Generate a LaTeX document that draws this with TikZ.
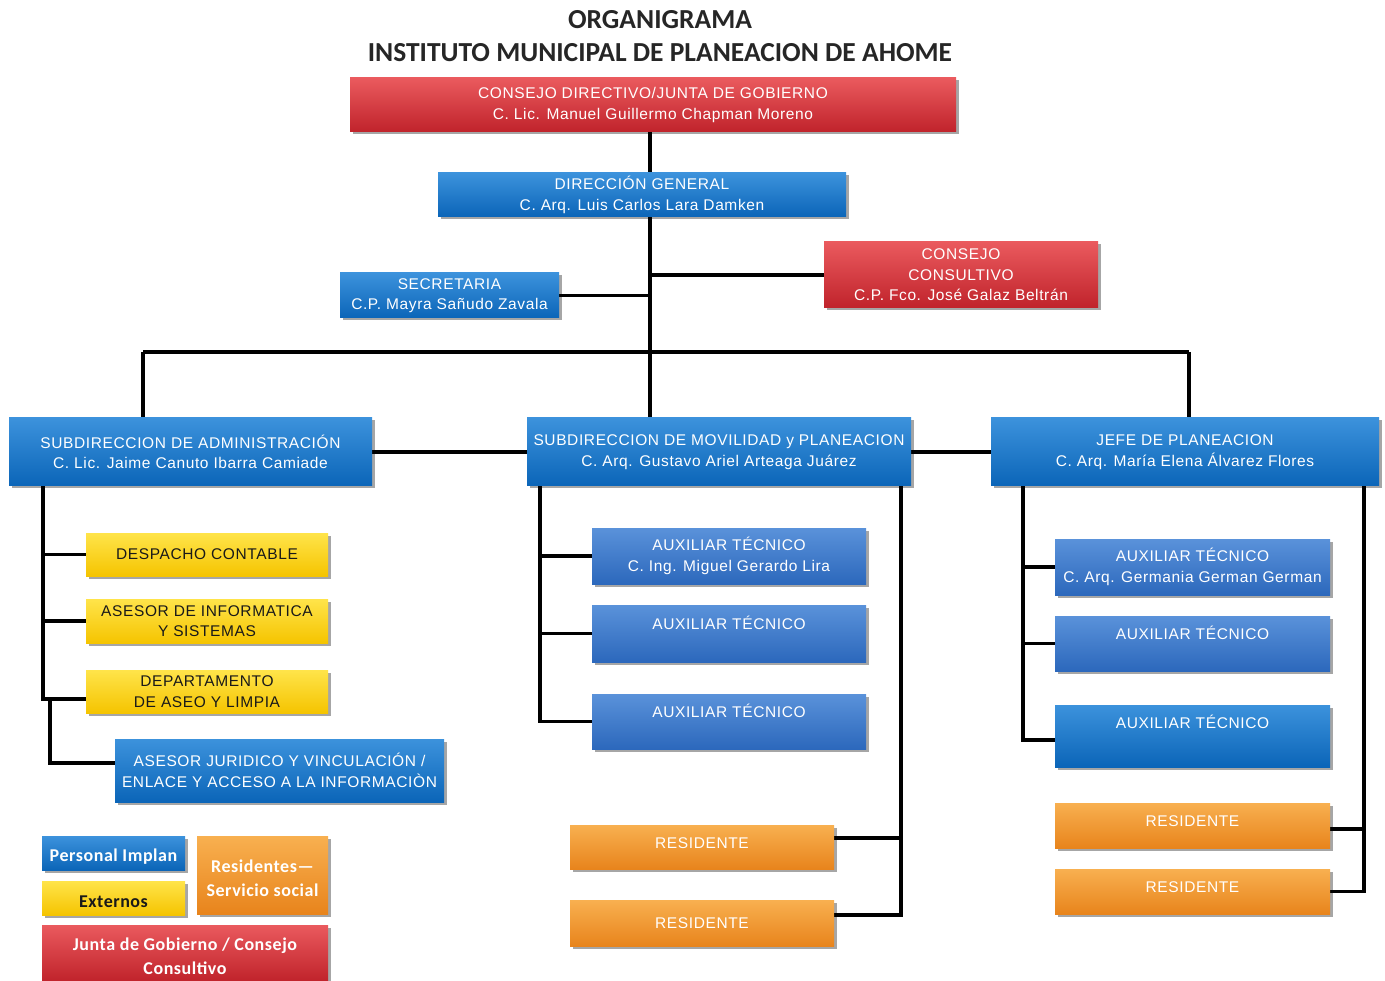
\documentclass[tikz,border=0pt]{standalone}
\usepackage{fontspec}
\usetikzlibrary{shadows,backgrounds}
\newfontfamily\bxfont[LetterSpace=4]{Liberation Sans}
\newfontfamily\lgfont[LetterSpace=3]{Carlito}
\newfontfamily\ttlfont{Carlito}
\definecolor{blueT}{HTML}{3C92DC}
\definecolor{blueB}{HTML}{0B65B8}
\definecolor{auxT}{HTML}{5A92DA}
\definecolor{auxB}{HTML}{2C68BC}
\definecolor{redT}{HTML}{EA5A5E}
\definecolor{redB}{HTML}{C0232B}
\definecolor{yelT}{HTML}{FFE44A}
\definecolor{yelB}{HTML}{F5C400}
\definecolor{orT}{HTML}{F8B050}
\definecolor{orB}{HTML}{E8841C}
\tikzset{
  box/.style={rectangle, draw=none, align=center, inner sep=0pt, text=white,
    font={\bxfont\fontsize{15.5}{20.5}\selectfont},
    drop shadow={shadow xshift=2.5pt, shadow yshift=-2.5pt, opacity=0.35, fill=black}},
  bluebox/.style={box, top color=blueT, bottom color=blueB},
  auxbox/.style={box, top color=auxT, bottom color=auxB},
  redbox/.style={box, top color=redT, bottom color=redB},
  yelbox/.style={box, top color=yelT, bottom color=yelB, text=black!90},
  orbox/.style={box, top color=orT, bottom color=orB},
  lgd/.style={font={\lgfont\bfseries\fontsize{18}{24}\selectfont}},
  ln/.style={draw=black, line width=3.5pt},
  ttl/.style={font={\ttlfont\bfseries\fontsize{27.5}{30}\selectfont}, text=black!85, anchor=base}
}
\newcommand\obox[7]{\node[#6, minimum width={#4-#2}, minimum height={#5-#3}] (#1) at ({(#2+#4)/2},{(#3+#5)/2}) {#7};}
\begin{document}
\begin{tikzpicture}[x=1pt,y=-1pt]
\useasboundingbox (0,0) rectangle (1385,981);
% title
\node[ttl] (t1) at (660,29) {ORGANIGRAMA};
\node[ttl] (t2) at (660,62) {INSTITUTO MUNICIPAL DE PLANEACION DE AHOME};
% coordinates for spines
\coordinate (sp) at (650,0);
\coordinate (busL) at (143,352);
\coordinate (busR) at (1189,352);
\coordinate (aL) at (43,0);
\coordinate (aL2) at (50,697);
\coordinate (mL) at (540,0);
\coordinate (mR) at (901,0);
\coordinate (jL) at (1023,0);
\coordinate (jR) at (1364,0);
% boxes
\obox{cd}{350}{78}{956}{132}{redbox}{CONSEJO DIRECTIVO/JUNTA DE GOBIERNO\\C. Lic. Manuel Guillermo Chapman Moreno}
\obox{dg}{438}{173}{846}{217}{bluebox}{DIRECCIÓN GENERAL\\C. Arq. Luis Carlos Lara Damken}
\obox{cc}{824}{242}{1098}{308}{redbox}{CONSEJO\\CONSULTIVO\\C.P. Fco. José Galaz Beltrán}
\obox{sec}{340}{273}{559}{318}{bluebox}{SECRETARIA\\C.P. Mayra Sañudo Zavala}
\obox{adm}{9}{418}{372}{486}{bluebox}{SUBDIRECCION DE ADMINISTRACIÓN\\C. Lic. Jaime Canuto Ibarra Camiade}
\obox{mov}{527}{418}{911}{486}{bluebox}{SUBDIRECCION DE MOVILIDAD y PLANEACION\\C. Arq. Gustavo Ariel Arteaga Juárez}
\obox{jef}{991}{418}{1379}{486}{bluebox}{JEFE DE PLANEACION\\C. Arq. María Elena Álvarez Flores}
\obox{desp}{86}{533}{328}{576}{yelbox}{DESPACHO CONTABLE}
\obox{inf}{86}{599}{328}{643}{yelbox}{ASESOR DE INFORMATICA\\Y SISTEMAS}
\obox{aseo}{86}{670}{328}{713}{yelbox}{DEPARTAMENTO\\DE ASEO Y LIMPIA}
\obox{jur}{115}{739}{444}{802}{bluebox}{ASESOR JURIDICO Y VINCULACIÓN /\\ENLACE Y ACCESO A LA INFORMACIÒN}
\obox{m1}{592}{528}{866}{584}{auxbox}{AUXILIAR TÉCNICO\\C. Ing. Miguel Gerardo Lira}
\obox{m2}{592}{605}{866}{662}{auxbox}{AUXILIAR TÉCNICO\\\mbox{}}
\obox{m3}{592}{694}{866}{749}{auxbox}{AUXILIAR TÉCNICO\\\mbox{}}
\obox{mr1}{570}{825}{834}{869}{orbox}{RESIDENTE\\[-12pt]\mbox{}}
\obox{mr2}{570}{900}{834}{946}{orbox}{RESIDENTE}
\obox{j1}{1055}{539}{1330}{595}{auxbox}{AUXILIAR TÉCNICO\\C. Arq. Germania German German}
\obox{j2}{1055}{616}{1330}{671}{auxbox}{AUXILIAR TÉCNICO\\\mbox{}}
\obox{j3}{1055}{705}{1330}{767}{bluebox}{AUXILIAR TÉCNICO\\[8pt]\mbox{}}
\obox{jr1}{1055}{803}{1330}{848}{orbox}{RESIDENTE\\[-12pt]\mbox{}}
\obox{jr2}{1055}{869}{1330}{914}{orbox}{RESIDENTE\\[-12pt]\mbox{}}
% legend
\obox{lg1}{42}{836}{185}{870}{bluebox,lgd}{\mbox{}\\[-5pt]Personal Implan}
\obox{lg2}{42}{881}{185}{915}{yelbox,lgd}{\mbox{}\\[-5pt]Externos}
\obox{lg3}{197}{836}{328}{914}{orbox,lgd}{\mbox{}\\[-5pt]Residentes—\\Servicio social}
\obox{lg4}{42}{925}{328}{981}{redbox,lgd}{\mbox{}\\[-5pt]Junta de Gobierno / Consejo\\Consultivo}
% connectors
\begin{scope}[on background layer]
\fill[white] (0,0) rectangle (1385,981);
\draw[ln] (cd.south -| sp) -- (mov.north -| sp);
\draw[ln] (cc.west -| sp) -- (cc.west);
\draw[ln] (sec.east) -- (sec.east -| sp);
\draw[ln] (busL) -- (busR);
\draw[ln] (busL) -- (busL |- adm.north);
\draw[ln] (busR) -- (busR |- jef.north);
\draw[ln] (adm.east) -- (mov.west);
\draw[ln] (mov.east) -- (jef.west);
% left column
\draw[ln] (adm.south -| aL) -- ([yshift=-7.5pt]aseo.west -| aL) -- ([yshift=-7.5pt]aseo.west);
\draw[ln] (desp.west -| aL) -- (desp.west);
\draw[ln] (inf.west -| aL) -- (inf.west);
\draw[ln] (aL2) |- ([yshift=7.5pt]jur.west);
% middle column
\draw[ln] (mov.south -| mL) |- (m3.west);
\draw[ln] (m1.west -| mL) -- (m1.west);
\draw[ln] (m2.west -| mL) -- (m2.west);
\draw[ln] (mov.south -| mR) |- ([yshift=8pt]mr2.east);
\draw[ln] ([yshift=9pt]mr1.east) -- ([yshift=9pt]mr1.east -| mR);
% right column
\draw[ln] (jef.south -| jL) |- ([yshift=-4pt]j3.west);
\draw[ln] (j1.west -| jL) -- (j1.west);
\draw[ln] (j2.west -| jL) -- (j2.west);
\draw[ln] (jef.south -| jR) |- (jr2.east);
\draw[ln] ([yshift=-3.5pt]jr1.east) -- ([yshift=-3.5pt]jr1.east -| jR);
\end{scope}
\end{tikzpicture}
\end{document}
